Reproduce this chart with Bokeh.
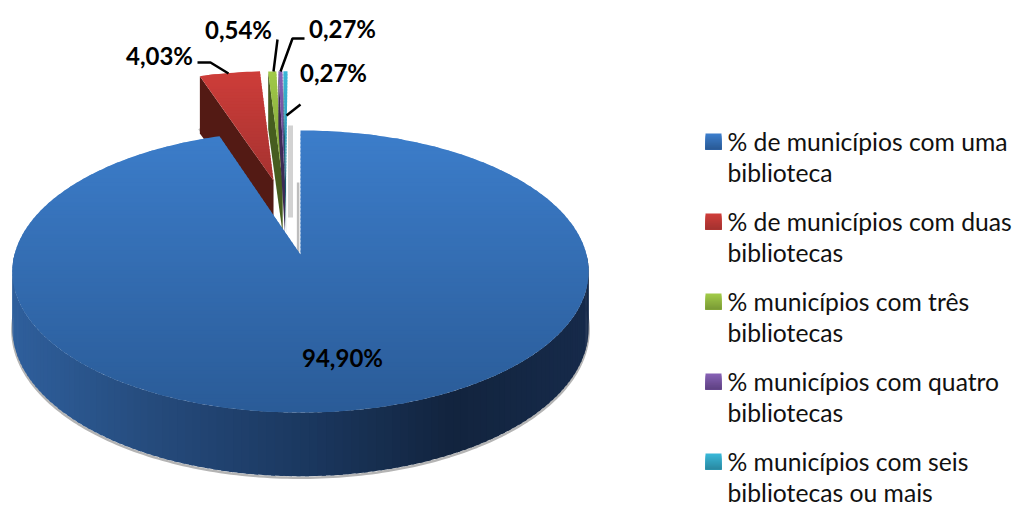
import numpy as np
from bokeh.plotting import figure
from bokeh.models import Range1d
from bokeh.core.properties import value
from bokeh.embed import file_html
from bokeh.resources import INLINE

# ---- data
categories = ["% de municípios com uma\nbiblioteca",
              "% de municípios com duas\nbibliotecas",
              "% municípios com três\nbibliotecas",
              "% municípios com quatro\nbibliotecas",
              "% municípios com seis\nbibliotecas ou mais"]
values = [94.90, 4.03, 0.54, 0.27, 0.27]
labels = ["94,90%", "4,03%", "0,54%", "0,27%", "0,27%"]

# ---- style
top_hi = ["#3c7dca", "#cd3d39", "#a0c948", "#8560b3", "#39b6d6"]
top_lo = ["#2a5b97", "#a53230", "#7b9c36", "#604384", "#2a8aa3"]
wall_c = [None, "#531a14", "#465d1f", "#3c2a55", "#1d5c6e"]
explode_u = [0.0, -0.1008, -0.0666, -0.058, -0.054]
explode_v = [0.0, 0.569, 0.567, 0.567, 0.567]
CX, CY, R, B, K, D = 300, 254, 286.0, 139.0, 0.1206, 56.0
W, H = 1015, 506


def proj(u, v):
    s = 1 + K * np.asarray(v)
    return CX + R * np.asarray(u) / s, CY - B * np.asarray(v) / s


def depth(v):
    return D / (1 + K * np.asarray(v))


def hexrgb(h):
    return np.array([int(h[i:i + 2], 16) for i in (1, 3, 5)], float)


def mix(a, b, t):
    c = hexrgb(a) * (1 - t) + hexrgb(b) * t
    return "#%02x%02x%02x" % tuple(int(round(x)) for x in c)


def clip(poly, y0, y1):
    def half(pts, inside, yc):
        out = []
        for i in range(len(pts)):
            a, b = pts[i], pts[(i + 1) % len(pts)]
            ia, ib = inside(a[1]), inside(b[1])
            if ia:
                out.append(a)
            if ia != ib:
                t = (yc - a[1]) / (b[1] - a[1])
                out.append((a[0] + t * (b[0] - a[0]), yc))
        return out
    r = half(poly, lambda y: y >= y0, y0)
    if r:
        r = half(r, lambda y: y <= y1, y1)
    return r


p = figure(width=W, height=H, x_range=Range1d(0, W), y_range=Range1d(H, 0),
           toolbar_location=None, output_backend="svg", min_border=0,
           outline_line_color=None, border_fill_color="white")
p.axis.visible = False
p.grid.visible = False

cum = np.cumsum([0] + values)
ang = cum / cum[-1] * 2 * np.pi


def slice_uv(i):
    n = max(int(np.degrees(ang[i + 1] - ang[i])), 3)
    t = np.linspace(ang[i], ang[i + 1], n + 1)
    return explode_u[i] + np.sin(t), explode_v[i] + np.cos(t), t


def draw_top(i, band=4.0):
    u, v, _ = slice_uv(i)
    ax, ay = proj([explode_u[i]], [explode_v[i]])
    x, y = proj(u, v)
    poly = [(ax[0], ay[0])] + list(zip(x, y))
    ys = [q[1] for q in poly]
    y0, y1 = min(ys), max(ys)
    xs_, ys_, cs = [], [], []
    e = y0
    while e < y1:
        c = clip(poly, e, e + band + 1.2)
        if len(c) >= 3:
            xs_.append([q[0] for q in c])
            ys_.append([q[1] for q in c])
            cs.append(mix(top_hi[i], top_lo[i], (e - y0) / max(y1 - y0, 1)))
        e += band
    p.patches(xs_, ys_, fill_color=cs, line_color=None)


# ---- soft shadow beneath the main body
u, v, t = slice_uv(0)
m = (t > np.pi * 0.47) & (t < np.pi * 1.53)
sx, sy = proj(u[m], v[m])
p.line(sx, sy + depth(v[m]) + 1.5, line_color="#b4b4b4", line_width=2.5)

# ---- shadows in the gap
p.line([290, 290], [125, 217], line_color="#d2d2d2", line_width=5)
p.line([297.6, 297.6], [182, 252], line_color="#bdbdbd", line_width=2.5)
p.line([199, 203], [128, 134], line_color="#c0c0c0", line_width=3)

# ---- exploded slices
for i in range(1, len(values)):
    u0, v0 = explode_u[i], explode_v[i]
    u1 = u0 + np.sin(ang[i])
    v1 = v0 + np.cos(ang[i])
    ax, ay = proj([u0, u1], [v0, v1])
    d = depth([v0, v1])
    p.patch([ax[0], ax[1], ax[1], ax[0]],
            [ay[0], ay[1], ay[1] + d[1] + 10, ay[0] + d[0]],
            fill_color=wall_c[i], line_color=None)
    draw_top(i, band=3.0)

# ---- main body wall
wall_x = [12, 150, 300, 450, 588]
wall_col = ["#2f5f9c", "#254b7c", "#1b3860", "#12243e", "#162a4a"]
fine = np.radians(np.arange(90, 271, 1.5))
xs_, ys_, cs = [], [], []
for a in fine[:-1]:
    b = a + np.radians(2.2)
    uu, vv = np.sin([a, b]), np.cos([a, b])
    x, y = proj(uu, vv)
    d = depth(vv)
    xs_.append([x[0], x[1], x[1], x[0]])
    ys_.append([y[0], y[1], y[1] + d[1], y[0] + d[0]])
    xm = (x[0] + x[1]) / 2
    j = max(min(np.searchsorted(wall_x, xm), len(wall_x) - 1), 1)
    tt = np.clip((xm - wall_x[j - 1]) / (wall_x[j] - wall_x[j - 1]), 0, 1)
    cs.append(mix(wall_col[j - 1], wall_col[j], tt))
p.patches(xs_, ys_, fill_color=cs, line_color=None)

draw_top(0)

# ---- leader lines
leaders = [([197, 210, 228], [62, 62, 73]),
           ([277, 273], [39, 71]),
           ([304, 292, 280], [38, 38, 71]),
           ([300, 286], [104, 115])]
for lx, ly in leaders:
    p.line(lx, ly, line_color="black", line_width=2.5)

# ---- data labels
label_xc = [342, 159, 238, 342, 333]
label_yc = [357, 55, 29, 28, 72]
p.text(label_xc, label_yc, text=labels,
       text_font=value("Lato"), text_font_style="bold", text_font_size="24px",
       text_color="black", text_align="center", text_baseline="middle")

# ---- legend
for i, cat in enumerate(categories):
    y0 = 133 + i * 80.0
    n = 8
    xs_ = [[705, 721, 721, 705] for k in range(n)]
    ys_ = [[y0 + k * 2, y0 + k * 2, y0 + 16, y0 + 16] for k in range(n)]
    cs = [mix(top_hi[i], top_lo[i], k / (n - 1)) for k in range(n)]
    p.patches(xs_, ys_, fill_color=cs, line_color=None)
    a, b = cat.split("\n")
    p.text([727, 727], [y0 + 7.5, y0 + 39], text=[a, b],
           text_font=value("Lato"), text_font_size="24.7px", text_color="#111111",
           text_align="left", text_baseline="middle")

open("out.html", "w").write(file_html(p, INLINE))
